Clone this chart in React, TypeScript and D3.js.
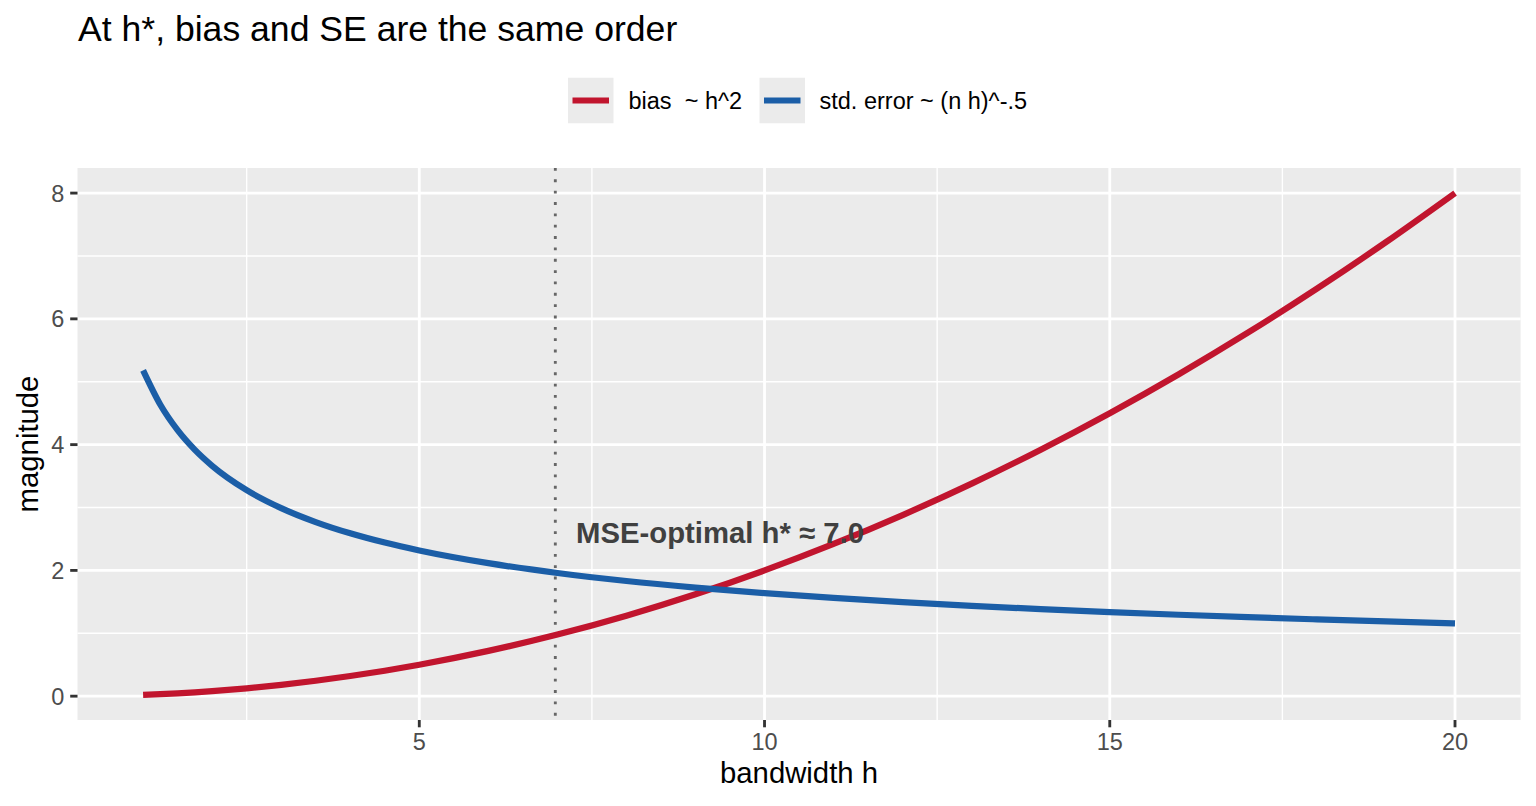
import * as d3 from "d3"

// bandwidth grid and the two curves
const bandwidth = [1, 1.25, 1.5, 1.75, 2, 2.5, 3, 3.5, 4, 4.5, 5, 6, 7, 8, 9, 10, 11, 12, 13, 14, 15, 16, 17, 18, 19, 20]
const biasValues = [0.02, 0.031, 0.045, 0.061, 0.08, 0.125, 0.18, 0.245, 0.32, 0.405, 0.5, 0.72, 0.98, 1.28, 1.62, 2.0, 2.42, 2.88, 3.38, 3.92, 4.5, 5.12, 5.78, 6.48, 7.22, 8.0]
const seValues = [5.18, 4.633, 4.229, 3.916, 3.663, 3.276, 2.991, 2.769, 2.59, 2.442, 2.317, 2.115, 1.958, 1.831, 1.727, 1.638, 1.562, 1.495, 1.437, 1.384, 1.337, 1.295, 1.256, 1.221, 1.188, 1.158]

const seriesNames = ["bias  ~ h^2", "std. error ~ (n h)^-.5"]
const seriesColors = ["#C1152E", "#1B5EA7"]

const xTicks = [5, 10, 15, 20]
const xMinor = [2.5, 7.5, 12.5, 17.5]
const yTicks = [0, 2, 4, 6, 8]
const yMinor = [1, 3, 5, 7]

const hStar = 6.97
const hStarLabel = "MSE-optimal h* ≈ 7.0"
const labelY = 2.6

const titleText = "At h*, bias and SE are the same order"
const xTitle = "bandwidth h"
const yTitle = "magnitude"

const W = 1536
const H = 806
const margin = { top: 168, right: 15.4, bottom: 86, left: 77.5 }
const font = "'Liberation Sans', Arial, Helvetica, sans-serif"

export default function App() {
  const x0 = margin.left
  const x1 = W - margin.right
  const y0 = margin.top
  const y1 = H - margin.bottom

  const allY = [...biasValues, ...seValues]
  const [xmin, xmax] = d3.extent(bandwidth) as [number, number]
  const [ymin, ymax] = d3.extent(allY) as [number, number]
  const xPad = (xmax - xmin) * 0.05
  const yPad = (ymax - ymin) * 0.05

  const x = d3.scaleLinear().domain([xmin - xPad, xmax + xPad]).range([x0, x1])
  const y = d3.scaleLinear().domain([ymin - yPad, ymax + yPad]).range([y1, y0])

  const line = d3.line<[number, number]>()
    .x(d => x(d[0]))
    .y(d => y(d[1]))
    .curve(d3.curveMonotoneX)

  const series = [biasValues, seValues].map(vals =>
    bandwidth.map((h, i) => [h, vals[i]] as [number, number])
  )

  const tickLen = 7.3
  const tickFont = 23.5
  const legendY = 100.5
  const keySize = 45.5
  const legendKeys = [568, 759.5]
  const legendText = [628.5, 819.5]

  return (
    <svg
      width={W}
      height={H}
      style={{ position: "absolute", left: 0, top: 0, background: "#fff" }}
      fontFamily={font}
    >
      <text x={78} y={40.5} fontSize={35.6} fill="#000">{titleText}</text>

      {/* legend */}
      {seriesNames.map((name, i) => (
        <g key={name}>
          <rect x={legendKeys[i]} y={legendY - keySize / 2} width={keySize} height={keySize} fill="#EBEBEB" />
          <line
            x1={legendKeys[i] + 4.5}
            x2={legendKeys[i] + keySize - 4.5}
            y1={legendY}
            y2={legendY}
            stroke={seriesColors[i]}
            strokeWidth={6.2}
          />
          <text x={legendText[i]} y={legendY + 8.3} fontSize={tickFont} fill="#000" style={{ whiteSpace: "pre" }}>
            {name}
          </text>
        </g>
      ))}

      {/* panel */}
      <rect x={x0} y={y0} width={x1 - x0} height={y1 - y0} fill="#EBEBEB" />
      {yMinor.map(v => (
        <line key={"ym" + v} x1={x0} x2={x1} y1={y(v)} y2={y(v)} stroke="#fff" strokeWidth={1.42} />
      ))}
      {xMinor.map(v => (
        <line key={"xm" + v} x1={x(v)} x2={x(v)} y1={y0} y2={y1} stroke="#fff" strokeWidth={1.42} />
      ))}
      {yTicks.map(v => (
        <line key={"yM" + v} x1={x0} x2={x1} y1={y(v)} y2={y(v)} stroke="#fff" strokeWidth={2.85} />
      ))}
      {xTicks.map(v => (
        <line key={"xM" + v} x1={x(v)} x2={x(v)} y1={y0} y2={y1} stroke="#fff" strokeWidth={2.85} />
      ))}

      {/* h* marker */}
      <line
        x1={x(hStar)}
        x2={x(hStar)}
        y1={y0}
        y2={y1}
        stroke="#666666"
        strokeWidth={2.85}
        strokeDasharray="2.85 8.5"
      />

      {series.map((pts, i) => (
        <path
          key={seriesNames[i]}
          d={line(pts) ?? ""}
          fill="none"
          stroke={seriesColors[i]}
          strokeWidth={6.2}
          strokeLinejoin="round"
        />
      ))}

      <text
        x={x(hStar + 0.3)}
        y={y(labelY) + 10.2}
        fontSize={29.3}
        fontWeight="bold"
        fill="#404040"
      >
        {hStarLabel}
      </text>

      {/* axes */}
      {yTicks.map(v => (
        <g key={"yt" + v}>
          <line x1={x0 - tickLen} x2={x0} y1={y(v)} y2={y(v)} stroke="#333333" strokeWidth={2.85} />
          <text x={x0 - tickLen - 5.9} y={y(v) + tickFont * 0.36} fontSize={tickFont} fill="#4D4D4D" textAnchor="end">
            {v}
          </text>
        </g>
      ))}
      {xTicks.map(v => (
        <g key={"xt" + v}>
          <line x1={x(v)} x2={x(v)} y1={y1} y2={y1 + tickLen} stroke="#333333" strokeWidth={2.85} />
          <text x={x(v)} y={y1 + tickLen + 5.9 + 16.8} fontSize={tickFont} fill="#4D4D4D" textAnchor="middle">
            {v}
          </text>
        </g>
      ))}

      <text x={(x0 + x1) / 2} y={783} fontSize={29.3} fill="#000" textAnchor="middle">{xTitle}</text>
      <text
        transform={`translate(38,${(y0 + y1) / 2}) rotate(-90)`}
        fontSize={29.3}
        fill="#000"
        textAnchor="middle"
      >
        {yTitle}
      </text>
    </svg>
  )
}
